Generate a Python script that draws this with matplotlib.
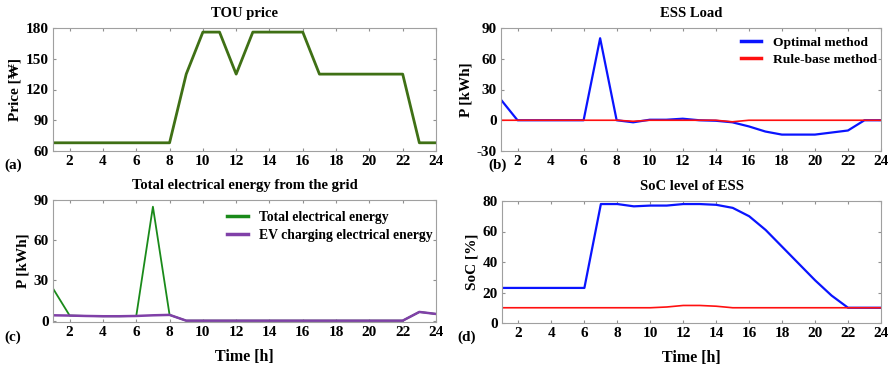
import numpy as np
import matplotlib
matplotlib.use('Agg')
import matplotlib.pyplot as plt

plt.rcParams['font.family'] = ['Liberation Serif', 'DejaVu Serif']
plt.rcParams['font.weight'] = 'bold'
plt.rcParams['axes.titleweight'] = 'bold'
plt.rcParams['axes.labelweight'] = 'bold'
plt.rcParams['axes.unicode_minus'] = False

hours = np.arange(1, 25)

# (a) TOU price
tou_price = [68, 68, 68, 68, 68, 68, 68, 68, 135, 176, 176, 135,
             176, 176, 176, 176, 135, 135, 135, 135, 135, 135, 68, 68]

# (b) ESS load
ess_optimal = [20, 0, 0, 0, 0, 0, 80, 0, -2, 0.5, 0.5, 1.5,
               0, -0.5, -2, -6, -11, -14, -14, -14, -12, -10, 0, 0]
ess_rule = [0, 0, 0, 0, 0, 0, 0, 0, -1, 0, 0, 0,
            0, 0, -1.5, 0, 0, 0, 0, 0, 0, 0, 0, 0]

# (c) energy from the grid
grid_total = [24, 3.8, 3.5, 3.3, 3.3, 3.5, 85, 4.3, 0, 0, 0, 0,
              0, 0, 0, 0, 0, 0, 0, 0, 0, 0, 6.5, 5]
ev_charging = [4, 3.8, 3.5, 3.3, 3.3, 3.5, 4, 4.3, 0, 0, 0, 0,
               0, 0, 0, 0, 0, 0, 0, 0, 0, 0, 6.5, 5]

# (d) SoC level
soc_optimal = [23, 23, 23, 23, 23, 23, 78, 78, 76.5, 77, 77, 78,
               78, 77.5, 75.5, 70, 61, 50, 39, 28, 18, 10, 10, 10]
soc_rule = [10, 10, 10, 10, 10, 10, 10, 10, 10, 10, 10.5, 11.5,
            11.5, 11, 10, 10, 10, 10, 10, 10, 10, 10, 10, 10]

fig = plt.figure(figsize=(8.9, 3.67), dpi=100)
W, H = 890, 367

def make_ax(l, t, r, b):
    return fig.add_axes([l / W, 1 - b / H, (r - l) / W, (b - t) / H])

ax_a = make_ax(53, 28, 436, 151)
ax_b = make_ax(501, 28, 881, 151)
ax_c = make_ax(53, 200, 436, 322)
ax_d = make_ax(502, 201, 881, 323)

for ax in (ax_a, ax_b, ax_c, ax_d):
    ax.set_xlim(1, 24)
    ax.set_xticks(range(2, 25, 2))
    ax.tick_params(direction='in', top=True, right=True, length=2.5,
                   color='#909090', labelsize=11, pad=3)
    for s in ax.spines.values():
        s.set_color('#a0a0a0')
        s.set_linewidth(0.8)
    for lab in ax.get_xticklabels() + ax.get_yticklabels():
        lab.set_fontweight('bold')

ax_a.plot(hours, tou_price, color='#3f7015', lw=2.0)
ax_a.set_ylim(60, 180)
ax_a.set_yticks([60, 90, 120, 150, 180])
ax_a.set_title('TOU price', fontsize=10.5, pad=8)
ax_a.set_ylabel('Price [₩]', fontsize=11, labelpad=3)

ax_b.plot(hours, ess_optimal, color='#0a14ff', lw=1.6, label='Optimal method')
ax_b.plot(hours, ess_rule, color='#ff1010', lw=1.2, label='Rule-base method')
ax_b.set_ylim(-30, 90)
ax_b.set_yticks([-30, 0, 30, 60, 90])
ax_b.set_title('ESS Load', fontsize=10.5, pad=8)
ax_b.set_ylabel('P [kWh]', fontsize=11, labelpad=3)
leg = ax_b.legend(loc='upper left', frameon=False, fontsize=9.7,
                  handlelength=1.5, handletextpad=0.85, labelspacing=0.35,
                  bbox_to_anchor=((729 - 501) / 380, 1.03))
for line in leg.get_lines():
    line.set_linewidth(2.5)

ax_c.plot(hours, grid_total, color='#1a8a1a', lw=1.3, label='Total electrical energy')
ax_c.plot(hours, ev_charging, color='#8040a8', lw=1.8, label='EV charging electrical energy')
ax_c.set_ylim(-1, 90)
ax_c.set_yticks([0, 30, 60, 90])
ax_c.set_title('Total electrical energy from the grid', fontsize=10.5, pad=8)
ax_c.set_ylabel('P [kWh]', fontsize=11, labelpad=3)
ax_c.set_xlabel('Time [h]', fontsize=11.5, labelpad=7)
leg = ax_c.legend(loc='upper left', frameon=False, fontsize=9.8,
                  handlelength=1.5, handletextpad=0.85, labelspacing=0.35,
                  bbox_to_anchor=((215 - 53) / 383, 1.01))
for line in leg.get_lines():
    line.set_linewidth(2.5)

ax_d.plot(hours, soc_optimal, color='#0a14ff', lw=1.6)
ax_d.plot(hours, soc_rule, color='#ff1010', lw=1.2)
ax_d.set_ylim(0, 80)
ax_d.set_yticks([0, 20, 40, 60, 80])
ax_d.set_title('SoC level of ESS', fontsize=10.5, pad=8)
ax_d.set_ylabel('SoC [%]', fontsize=11, labelpad=3)
ax_d.set_xlabel('Time [h]', fontsize=11.5, labelpad=7)

for txt, x, y in [('(a)', 4, 165), ('(b)', 488, 165), ('(c)', 4, 337), ('(d)', 457, 337)]:
    fig.text(x / W, 1 - y / H, txt, fontsize=11, fontweight='bold',
             ha='left', va='center')

fig.savefig('out.png', dpi=100)
